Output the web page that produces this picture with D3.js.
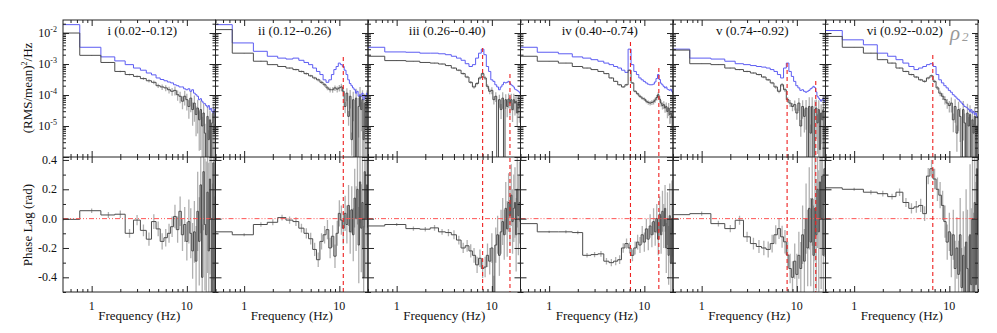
<html>
<head>
<meta charset="utf-8">
<script src="https://cdnjs.cloudflare.com/ajax/libs/d3/7.8.5/d3.min.js"></script>
<style>
  body { margin: 0; background: #fff; }
  text { font-family: "Liberation Serif", "DejaVu Serif", serif; fill: #111; }
</style>
</head>
<body>
<div id="cont"></div>
<script>
// frequency bins (Hz), 0.5 Hz wide
var freqs = [0.5,1,1.5,2,2.5,3,3.5,4,4.5,5,5.5,6,6.5,7,7.5,8,8.5,9,9.5,10,
             10.5,11,11.5,12,12.5,13,13.5,14,14.5,15,15.5,16,16.5,17,17.5,18,18.5,19,19.5,20];

var titles = ["i (0.02--0.12)", "ii (0.12--0.26)", "iii (0.26--0.40)",
              "iv (0.40--0.74)", "v (0.74--0.92)", "vi (0.92--0.02)"];

// log10 of power, blue (upper) curve
var logPowBlue1 = [-1.73,-2.46,-2.77,-2.90,-3.02,-3.13,-3.20,-3.29,-3.35,-3.45,-3.50,-3.54,-3.58,-3.61,-3.67,-3.70,-3.74,-3.74,-3.80,-3.83,
                   -3.80,-3.88,-3.83,-3.94,-3.99,-4.04,-4.15,-4.12,-4.20,-4.26,-4.28,-4.34,-4.39,-4.34,-4.47,-4.43,-4.53,-4.58,-4.47,-4.69];
var logPowBlue2 = [-1.73,-2.32,-2.59,-2.75,-2.81,-2.84,-2.81,-2.88,-2.95,-3.02,-3.13,-3.24,-3.34,-3.51,-3.59,-3.51,-3.34,-3.18,-3.08,-2.97,
                   -3.02,-3.08,-3.20,-3.34,-3.51,-3.63,-3.70,-3.77,-3.83,-3.94,-3.88,-4.04,-3.99,-4.04,-3.94,-4.15,-4.02,-4.06,-3.94,-4.04];
var logPowBlue3 = [-2.46,-2.61,-2.62,-2.65,-2.65,-2.67,-2.70,-2.75,-2.81,-2.88,-2.99,-3.08,-3.02,-2.81,-2.65,-2.52,-2.70,-3.08,-3.24,-3.51,
                   -3.56,-3.67,-3.74,-3.83,-3.74,-3.67,-3.59,-3.61,-3.59,-3.56,-3.61,-3.67,-3.70,-3.74,-3.81,-3.83,-3.85,-3.88,-3.91,-3.96];
var logPowBlue4 = [-2.46,-2.62,-2.67,-2.77,-2.81,-2.86,-2.91,-2.97,-3.02,-3.08,-3.13,-3.20,-3.27,-2.52,-3.02,-3.24,-3.34,-3.45,-3.51,-3.56,
                   -3.61,-3.65,-3.67,-3.67,-3.65,-3.58,-3.47,-3.34,-3.50,-3.62,-3.67,-3.72,-3.77,-3.74,-3.81,-3.83,-3.85,-3.81,-3.88,-3.94];
var logPowBlue5 = [-2.52,-2.81,-2.84,-2.91,-2.99,-3.02,-3.05,-3.08,-3.10,-3.13,-3.18,-3.24,-3.34,-3.45,-3.13,-2.97,-3.24,-3.40,-3.56,-3.70,
                   -3.77,-3.85,-3.83,-3.88,-3.91,-3.88,-3.85,-3.80,-3.77,-3.72,-3.76,-3.90,-4.04,-4.10,-4.15,-4.20,-4.15,-4.10,-4.20,-4.26];
var logPowBlue6 = [-1.92,-2.22,-2.38,-2.65,-2.75,-2.86,-2.97,-3.08,-3.18,-3.13,-3.08,-3.02,-2.99,-3.08,-3.34,-3.51,-3.61,-3.70,-3.77,-3.85,
                   -3.91,-3.99,-4.04,-4.10,-4.15,-4.20,-4.26,-4.31,-4.37,-4.39,-4.42,-4.47,-4.53,-4.47,-4.58,-4.53,-4.63,-4.58,-4.69,-4.74];

// log10 of power, black (lower) curve; -7 = below the axis
var logPowBlack1 = [-2.00,-2.72,-2.95,-3.24,-3.34,-3.40,-3.47,-3.54,-3.59,-3.70,-3.74,-3.77,-3.83,-3.88,-3.85,-3.99,-4.04,-4.20,-4.04,-4.15,
                    -4.37,-4.10,-4.47,-4.26,-4.63,-4.42,-4.80,-4.47,-5.00,-4.58,-5.23,-7,-4.69,-5.44,-4.80,-7,-4.90,-4.58,-5.23,-4.47];
var logPowBlack2 = [-1.89,-2.65,-2.91,-3.02,-3.08,-3.13,-3.18,-3.24,-3.31,-3.38,-3.45,-3.51,-3.59,-3.67,-3.77,-3.83,-3.83,-3.77,-3.81,-3.77,
                    -3.74,-3.88,-4.37,-3.94,-4.69,-4.04,-5.44,-4.15,-7,-4.10,-7,-4.37,-4.04,-4.47,-4.15,-5.44,-4.26,-5.00,-4.15,-4.37];
var logPowBlack3 = [-2.75,-2.89,-2.91,-2.95,-2.97,-3.00,-3.05,-3.13,-3.20,-3.31,-3.42,-3.59,-3.74,-3.63,-3.45,-3.31,-3.45,-3.72,-3.88,-3.85,
                    -4.15,-4.04,-7,-4.15,-4.47,-4.10,-7,-4.15,-4.37,-4.13,-4.26,-4.15,-4.47,-4.15,-4.26,-4.20,-4.58,-4.26,-4.37,-4.20];
var logPowBlack4 = [-2.75,-2.91,-2.97,-3.08,-3.13,-3.18,-3.24,-3.31,-3.45,-3.56,-3.67,-3.74,-3.67,-3.20,-3.61,-3.88,-3.96,-4.04,-4.10,-4.13,
                    -4.20,-4.24,-4.26,-4.24,-4.22,-4.16,-4.08,-3.99,-4.13,-4.26,-4.34,-4.31,-4.42,-4.37,-4.53,-4.42,-4.63,-4.58,-4.69,-4.74];
var logPowBlack5 = [-2.55,-2.99,-3.02,-3.13,-3.18,-3.24,-3.29,-3.34,-3.42,-3.51,-3.61,-3.74,-3.88,-3.67,-3.83,-4.15,-4.26,-4.37,-4.31,-4.58,
                    -4.26,-5.00,-4.37,-4.69,-4.42,-7,-4.37,-5.23,-4.37,-7,-4.47,-4.42,-4.90,-4.47,-5.76,-4.58,-4.80,-4.47,-7,-4.58];
var logPowBlack6 = [-2.11,-2.46,-2.65,-2.86,-2.97,-3.13,-3.24,-3.34,-3.42,-3.51,-3.56,-3.45,-3.38,-3.56,-3.77,-3.94,-4.04,-4.15,-4.26,-4.34,
                    -4.26,-4.80,-4.37,-5.23,-4.47,-4.69,-7,-4.47,-4.90,-7,-4.58,-5.00,-4.63,-7,-4.80,-5.23,-4.69,-7,-5.00,-5.23];

// relative errors of the black power curve
var powErr1 = [0.02,0.03,0.04,0.05,0.06,0.08,0.10,0.12,0.14,0.16,0.20,0.22,0.25,0.28,0.32,0.36,0.40,0.45,0.50,0.55,
               0.60,0.65,0.70,0.75,0.80,0.85,0.90,0.95,1,1,1,1,1,1,1,1,1,1,1,1];
var powErr2 = [0.02,0.02,0.03,0.03,0.04,0.05,0.06,0.07,0.08,0.09,0.10,0.11,0.12,0.14,0.16,0.18,0.20,0.20,0.22,0.24,
               0.28,0.35,0.40,0.45,0.50,0.60,0.70,0.80,0.90,1,1,0.9,1,0.8,1,0.9,1,0.9,1,0.9];
var powErr3 = [0.02,0.02,0.02,0.03,0.03,0.04,0.05,0.06,0.07,0.08,0.09,0.10,0.12,0.12,0.12,0.12,0.14,0.16,0.20,0.25,
               0.30,0.35,0.50,0.45,0.50,0.55,0.60,0.50,0.55,0.50,0.60,0.55,0.60,0.55,0.60,0.60,0.65,0.60,0.70,0.70];
var powErr4 = [0.01,0.02,0.02,0.02,0.03,0.03,0.04,0.04,0.05,0.05,0.06,0.06,0.07,0.06,0.08,0.09,0.10,0.11,0.12,0.13,
               0.14,0.15,0.16,0.17,0.18,0.19,0.20,0.20,0.22,0.24,0.26,0.28,0.30,0.35,0.40,0.45,0.50,0.55,0.60,0.65];
var powErr5 = [0.02,0.02,0.03,0.03,0.04,0.05,0.06,0.07,0.08,0.09,0.10,0.12,0.14,0.14,0.16,0.20,0.25,0.30,0.35,0.40,
               0.45,0.55,0.60,0.70,0.80,0.90,1,0.9,1,0.9,1,0.9,0.9,1,1,0.9,1,1,1,1];
var powErr6 = [0.02,0.02,0.03,0.03,0.04,0.05,0.06,0.07,0.08,0.09,0.10,0.10,0.10,0.12,0.15,0.20,0.25,0.30,0.35,0.40,
               0.50,0.60,0.70,0.75,0.80,0.85,0.90,0.90,1,0.9,1,0.95,1,1,1,1,1,1,1,1];

// phase lags (rad)
var lag1 = [-0.005,0.054,0.025,0.03,-0.1,-0.01,-0.08,-0.14,-0.02,-0.07,-0.155,-0.13,-0.1,-0.055,0.015,-0.075,0.05,-0.11,-0.04,-0.155,
            -0.02,-0.1,-0.22,-0.09,-0.29,0.05,-0.155,0.23,-0.4,0.32,-0.04,-0.11,0.18,-0.22,0.27,0,-0.51,0.38,-0.7,0.6];
var lag2 = [-0.09,-0.11,-0.04,-0.025,0.007,-0.01,-0.02,-0.065,-0.1,-0.137,-0.21,-0.28,-0.155,-0.11,-0.075,-0.2,-0.12,-0.256,-0.1,0.036,
            -0.01,-0.065,0.036,-0.04,0.09,-0.09,0.06,-0.11,0.14,0,0.2,-0.18,0.25,-0.065,0.11,-0.4,0.32,0,0.23,-0.06];
var lag3 = [-0.05,-0.04,-0.068,-0.072,-0.063,-0.09,-0.095,-0.11,-0.146,-0.2,-0.185,-0.22,-0.25,-0.315,-0.27,-0.34,-0.33,-0.25,-0.29,-0.2,
            -0.5,-0.18,-0.11,-0.25,-0.09,-0.02,-0.11,0.07,-0.07,0.11,0.02,0.16,-0.02,0.07,0.11,-0.11,0.2,0.02,0.11,-0.02];
var lag4 = [-0.034,-0.09,-0.09,-0.095,-0.25,-0.245,-0.24,-0.29,-0.3,-0.29,-0.28,-0.2,-0.17,-0.2,-0.25,-0.2,-0.16,-0.18,-0.11,-0.16,
            -0.07,-0.14,-0.05,-0.11,-0.02,-0.09,0,-0.14,0.03,-0.11,0.05,-0.05,0.07,-0.2,0,-0.25,0.02,-0.3,0,-0.1];
var lag5 = [0.027,0.034,-0.034,-0.068,-0.011,-0.124,-0.17,-0.19,-0.2,-0.21,-0.17,-0.11,-0.068,-0.124,-0.158,-0.248,-0.34,-0.4,-0.29,-0.38,
            -0.25,-0.34,-0.11,-0.29,0,-0.2,0.07,-0.16,0.135,-0.25,0.07,-0.11,0.2,-0.09,0.25,0,0.29,-0.25,0.34,0.11];
var lag6 = [0.21,0.2,0.18,0.17,0.15,0.18,0.11,0.07,0.08,0.09,0.034,0.29,0.34,0.27,0.2,0.16,0.09,-0.02,-0.16,-0.09,
            -0.25,-0.11,-0.34,-0.2,-0.38,-0.11,-0.47,-0.25,-0.52,-0.16,-0.34,-0.56,-0.11,-0.45,0,-0.56,0.11,-0.45,0.34,-0.11];

// phase lag errors (rad)
var lagErr1 = [0.01,0.015,0.02,0.025,0.03,0.035,0.04,0.045,0.05,0.05,0.055,0.06,0.065,0.07,0.08,0.09,0.1,0.11,0.12,0.13,
               0.15,0.17,0.19,0.21,0.24,0.27,0.3,0.33,0.36,0.4,0.45,0.5,0.55,0.6,0.65,0.7,0.75,0.8,0.85,0.9];
var lagErr2 = [0.01,0.01,0.015,0.02,0.02,0.025,0.03,0.03,0.035,0.04,0.045,0.05,0.055,0.06,0.065,0.07,0.075,0.08,0.085,0.09,
               0.1,0.11,0.12,0.13,0.14,0.15,0.16,0.18,0.2,0.22,0.24,0.26,0.28,0.3,0.32,0.35,0.38,0.4,0.42,0.45];
var lagErr3 = [0.01,0.01,0.015,0.015,0.02,0.02,0.025,0.03,0.03,0.035,0.04,0.045,0.05,0.055,0.06,0.065,0.07,0.08,0.09,0.1,
               0.11,0.12,0.13,0.14,0.15,0.16,0.17,0.18,0.19,0.2,0.2,0.21,0.22,0.23,0.24,0.25,0.26,0.27,0.28,0.3];
var lagErr4 = [0.005,0.008,0.01,0.012,0.015,0.018,0.02,0.022,0.025,0.028,0.03,0.032,0.035,0.038,0.04,0.045,0.05,0.055,0.06,0.065,
               0.07,0.075,0.08,0.085,0.09,0.095,0.1,0.11,0.12,0.13,0.14,0.15,0.16,0.17,0.18,0.2,0.22,0.24,0.26,0.28];
var lagErr5 = [0.01,0.015,0.02,0.025,0.03,0.035,0.04,0.045,0.05,0.055,0.06,0.065,0.07,0.075,0.08,0.09,0.1,0.11,0.12,0.14,
               0.16,0.18,0.2,0.22,0.24,0.26,0.28,0.3,0.32,0.34,0.36,0.38,0.4,0.42,0.45,0.48,0.5,0.55,0.6,0.65];
var lagErr6 = [0.01,0.01,0.015,0.02,0.02,0.025,0.03,0.035,0.04,0.045,0.05,0.055,0.06,0.07,0.08,0.09,0.1,0.11,0.12,0.13,
               0.15,0.17,0.19,0.21,0.23,0.25,0.27,0.3,0.33,0.36,0.4,0.44,0.48,0.52,0.56,0.6,0.65,0.7,0.75,0.8];

// QPO markers: frequency (Hz) and log10 power where the dashed line starts
var qpoFreq = [[], [11.0], [8.0, 15.5], [7.15, 14.2], [7.9, 15.8], [6.7]];
var qpoTop  = [[], [-2.77], [-2.48, -3.32], [-2.29, -3.13], [-2.97, -3.55], [-2.71]];

var panels = [
    {title: titles[0], blue: logPowBlue1, black: logPowBlack1, err: powErr1, lag: lag1, lagErr: lagErr1},
    {title: titles[1], blue: logPowBlue2, black: logPowBlack2, err: powErr2, lag: lag2, lagErr: lagErr2},
    {title: titles[2], blue: logPowBlue3, black: logPowBlack3, err: powErr3, lag: lag3, lagErr: lagErr3},
    {title: titles[3], blue: logPowBlue4, black: logPowBlack4, err: powErr4, lag: lag4, lagErr: lagErr4},
    {title: titles[4], blue: logPowBlue5, black: logPowBlack5, err: powErr5, lag: lag5, lagErr: lagErr5},
    {title: titles[5], blue: logPowBlue6, black: logPowBlack6, err: powErr6, lag: lag6, lagErr: lagErr6}
];

var svg = d3.select("#cont").append("svg")
    .attr("width", 997)
    .attr("height", 333);

var leftX = 63, panelW = 152.5, topY = 20, midY = 157, bottomY = 292;
var floorPow = 1e-7;

var x = d3.scaleLog().domain([0.5, 20]).range([0, panelW]);
var yPow = d3.scaleLog().domain([1e-6, Math.pow(10, -1.58)]).range([midY, topY]);
var yLag = d3.scaleLinear().domain([-0.5, 0.42]).range([bottomY, midY]);

var xMajor = [1, 10], xMinor = [0.6, 0.7, 0.8, 0.9, 2, 3, 4, 5, 6, 7, 8, 9, 20];
var powMajor = [1e-6, 1e-5, 1e-4, 1e-3, 1e-2], powMinor = [];
powMajor.forEach(function (d) {
    for (var k = 2; k <= 9; k++) if (d * k < yPow.domain()[1]) powMinor.push(d * k);
});
var lagMajor = [-0.4, -0.2, 0, 0.2, 0.4], lagMinor = [-0.5, -0.3, -0.1, 0.1, 0.3];

var defs = svg.append("defs");
defs.append("clipPath").attr("id", "clipTop").append("rect")
    .attr("x", 0).attr("y", topY).attr("width", panelW).attr("height", midY - topY);
defs.append("clipPath").attr("id", "clipBot").append("rect")
    .attr("x", 0).attr("y", midY).attr("width", panelW).attr("height", bottomY - midY);

function stepPoints(vals) {
    var pts = [];
    freqs.forEach(function (f, j) {
        var lo = j === 0 ? x.domain()[0] : (freqs[j - 1] + f) / 2;
        var hi = j === freqs.length - 1 ? x.domain()[1] : (f + freqs[j + 1]) / 2;
        pts.push([lo, vals[j]], [hi, vals[j]]);
    });
    return pts;
}

var powLine = d3.line()
    .x(function (d) { return x(d[0]); })
    .y(function (d) { return yPow(Math.max(floorPow, Math.pow(10, d[1]))); });
var lagLine = d3.line()
    .x(function (d) { return x(d[0]); })
    .y(function (d) { return yLag(d[1]); });

function ticks(g, axisFn, scale, values, size, tx, ty) {
    g.append("g")
        .attr("transform", "translate(" + tx + "," + ty + ")")
        .call(axisFn(scale).tickValues(values).tickSize(size).tickFormat("").tickSizeOuter(0))
        .call(function (s) { s.select(".domain").remove(); s.selectAll("line").attr("stroke", "#222"); });
}

panels.forEach(function (p, i) {
    var g = svg.append("g").attr("transform", "translate(" + (leftX + i * panelW) + ",0)");

    // upper: power spectra
    var gt = g.append("g").attr("clip-path", "url(#clipTop)");
    gt.selectAll("line.perr").data(freqs).enter().append("line")
        .attr("class", "perr")
        .attr("x1", function (f) { return x(f); })
        .attr("x2", function (f) { return x(f); })
        .attr("y1", function (f, j) { return yPow(Math.pow(10, p.black[j]) * (1 + p.err[j])); })
        .attr("y2", function (f, j) {
            return yPow(Math.max(floorPow, Math.pow(10, p.black[j]) * (1 - p.err[j])));
        })
        .attr("stroke", "#b0b0b0").attr("stroke-width", 1.3);
    gt.append("path").attr("d", powLine(stepPoints(p.blue)))
        .attr("fill", "none").attr("stroke", "#5c5cf2").attr("stroke-width", 1);
    gt.append("path").attr("d", powLine(stepPoints(p.black)))
        .attr("fill", "none").attr("stroke", "#4d4d4d").attr("stroke-width", 1);

    // lower: phase lags
    var gb = g.append("g").attr("clip-path", "url(#clipBot)");
    gb.selectAll("line.lerr").data(freqs).enter().append("line")
        .attr("class", "lerr")
        .attr("x1", function (f) { return x(f); })
        .attr("x2", function (f) { return x(f); })
        .attr("y1", function (f, j) { return yLag(p.lag[j] + p.lagErr[j]); })
        .attr("y2", function (f, j) { return yLag(p.lag[j] - p.lagErr[j]); })
        .attr("stroke", "#b0b0b0").attr("stroke-width", 1.3);
    gb.append("path").attr("d", lagLine(stepPoints(p.lag)))
        .attr("fill", "none").attr("stroke", "#4d4d4d").attr("stroke-width", 1);
    gb.append("line")
        .attr("x1", 0).attr("x2", panelW)
        .attr("y1", yLag(0)).attr("y2", yLag(0))
        .attr("stroke", "#ff5555").attr("stroke-width", 1)
        .attr("stroke-dasharray", "5,2,1,2,1,2");

    // QPO markers
    qpoFreq[i].forEach(function (f, k) {
        g.append("line")
            .attr("x1", x(f)).attr("x2", x(f))
            .attr("y1", yPow(Math.pow(10, qpoTop[i][k]))).attr("y2", bottomY)
            .attr("stroke", "#ee2020").attr("stroke-width", 1.1)
            .attr("stroke-dasharray", "4,3");
    });

    // frames and ticks
    g.append("rect").attr("x", 0).attr("y", topY).attr("width", panelW).attr("height", bottomY - topY)
        .attr("fill", "none").attr("stroke", "#222").attr("stroke-width", 1);
    g.append("line").attr("x1", 0).attr("x2", panelW).attr("y1", midY).attr("y2", midY)
        .attr("stroke", "#222").attr("stroke-width", 1);

    [[d3.axisTop, topY], [d3.axisBottom, midY], [d3.axisTop, midY], [d3.axisBottom, bottomY]].forEach(function (a) {
        ticks(g, a[0], x, xMajor, -6, 0, a[1]);
        ticks(g, a[0], x, xMinor, -3, 0, a[1]);
    });
    [[d3.axisLeft, 0], [d3.axisRight, panelW]].forEach(function (a) {
        ticks(g, a[0], yPow, powMajor, -6, a[1], 0);
        ticks(g, a[0], yPow, powMinor, -3, a[1], 0);
        ticks(g, a[0], yLag, lagMajor, -6, a[1], 0);
        ticks(g, a[0], yLag, lagMinor, -3, a[1], 0);
    });

    // texts
    g.append("text").attr("x", panelW / 2 + 3).attr("y", 35)
        .attr("text-anchor", "middle").attr("font-size", 13).text(p.title);
    xMajor.forEach(function (v) {
        g.append("text").attr("x", x(v)).attr("y", 310)
            .attr("text-anchor", "middle").attr("font-size", 12).text(v);
    });
    g.append("text").attr("x", panelW / 2).attr("y", 320)
        .attr("text-anchor", "middle").attr("font-size", 13).text("Frequency (Hz)");

    if (i === 0) {
        [-2, -3, -4, -5].forEach(function (e) {
            var t = g.append("text").attr("x", -6).attr("y", yPow(Math.pow(10, e)) + 4)
                .attr("text-anchor", "end").attr("font-size", 12).text("10");
            t.append("tspan").attr("dy", -5).attr("font-size", 8).text(String(e));
        });
        lagMajor.forEach(function (v) {
            g.append("text").attr("x", -6).attr("y", yLag(v) + 4)
                .attr("text-anchor", "end").attr("font-size", 12).text(d3.format(".1f")(v).replace("\u2212", "-"));
        });
    }
    if (i === 5) {
        var r = g.append("text").attr("x", panelW - 28).attr("y", 40)
            .attr("font-size", 21).attr("font-style", "italic").style("fill", "#999").text("\u03c1");
        r.append("tspan").attr("dx", 2).attr("dy", 1).attr("font-size", 13).text("2");
    }
});

// y axis titles
var yt = svg.append("text").attr("text-anchor", "middle").attr("font-size", 13)
    .attr("transform", "translate(32,88) rotate(-90)").text("(RMS/mean)");
yt.append("tspan").attr("dy", -5).attr("font-size", 8).text("2");
yt.append("tspan").attr("dy", 5).text("/Hz");
svg.append("text").attr("text-anchor", "middle").attr("font-size", 13)
    .attr("transform", "translate(32,225) rotate(-90)").text("Phase Lag (rad)");
</script>
</body>
</html>
